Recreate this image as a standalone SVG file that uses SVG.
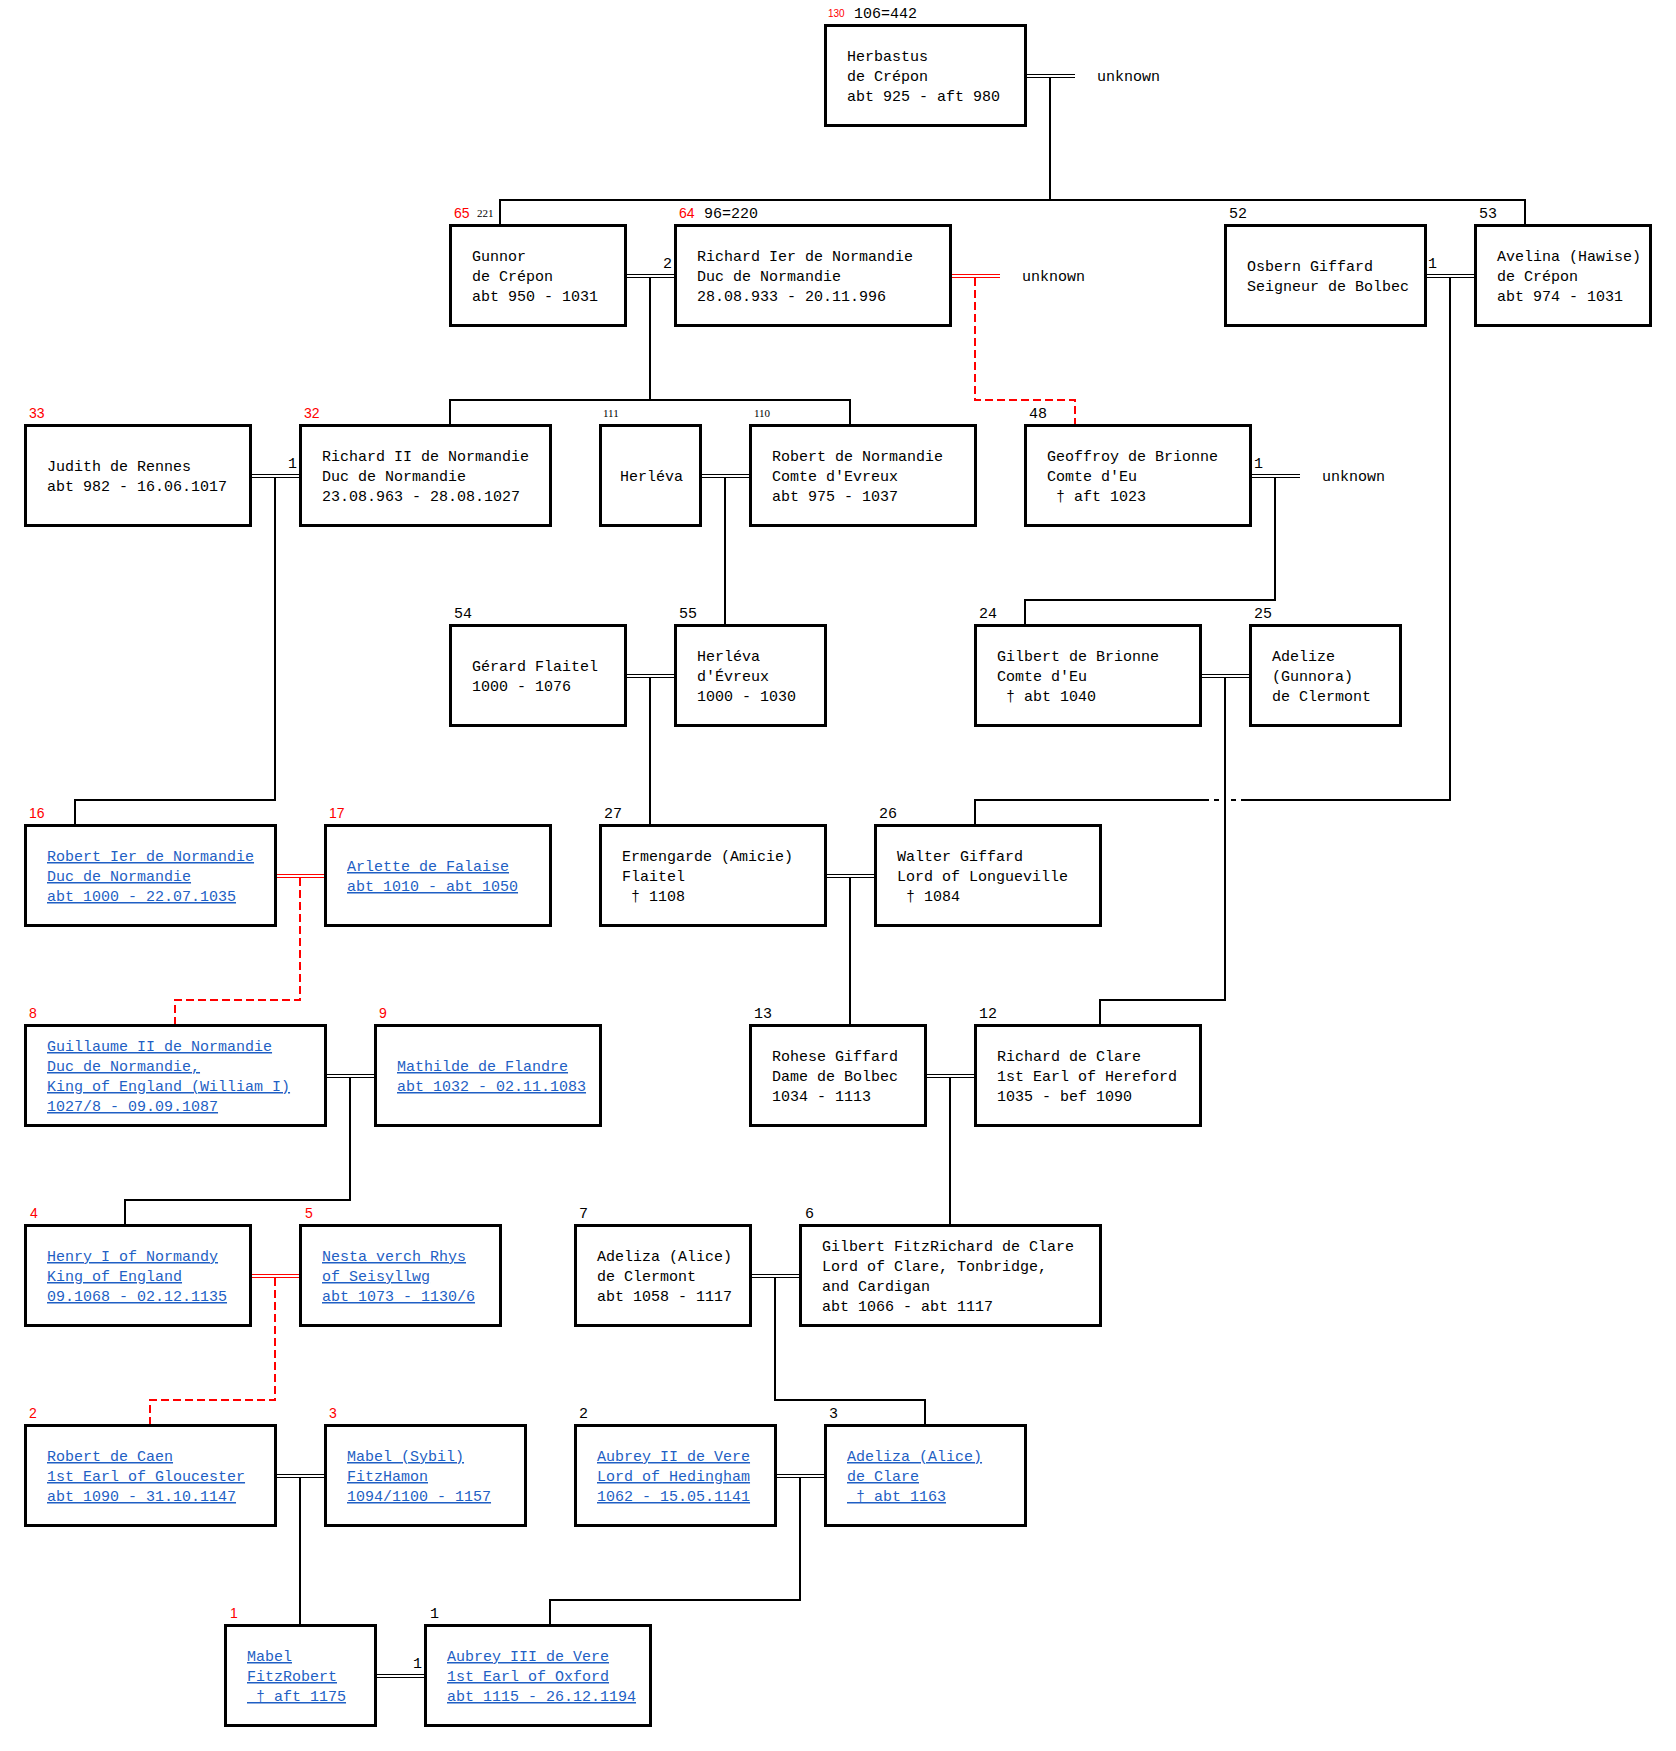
<svg xmlns="http://www.w3.org/2000/svg" width="1676" height="1751" viewBox="0 0 1676 1751">
<style>
.box{fill:#fff;stroke:#000;stroke-width:3}
.t{font-family:"Liberation Mono","Courier New",monospace;font-size:15px;fill:#000;white-space:pre}
.lk{fill:#1f5fc4;text-decoration:underline}
.nr{font-family:"Liberation Sans",Arial,sans-serif;font-size:14px;fill:#ff0000}
.ns{font-family:"Liberation Serif","Times New Roman",serif;font-size:11px;fill:#000}
.nsr{font-family:"Liberation Sans",Arial,sans-serif;font-size:10px;fill:#ff0000}
.c{stroke:#000;stroke-width:2;fill:none}
.cr{stroke:#ff0000;stroke-width:2;fill:none;stroke-dasharray:8 4}
.d{stroke:#000;stroke-width:1;fill:none}
.dr{stroke:#ff0000;stroke-width:1;fill:none}
</style>
<rect width="1676" height="1751" fill="#fff"/>
<g id="connectors">
<path class="c" d="M1050,77V200M500,225V200H1525V225"/>
<path class="c" d="M650,278V400M450,425V400H850V425"/>
<path class="c" d="M1450,278V800H1241M1236,800H1231M1219,800H1214M1209,800H975V825"/>
<path class="c" d="M275,478V800H75V825"/>
<path class="c" d="M725,478V625"/>
<path class="c" d="M1275,478V600H1025V625"/>
<path class="c" d="M650,678V825"/>
<path class="c" d="M1225,678V1000H1100V1025"/>
<path class="c" d="M850,878V1025"/>
<path class="c" d="M350,1078V1200H125V1225"/>
<path class="c" d="M950,1078V1225"/>
<path class="c" d="M775,1278V1400H925V1425"/>
<path class="c" d="M300,1478V1625"/>
<path class="c" d="M800,1478V1600H550V1625"/>
<path class="cr" d="M975,278V400H1075V425"/>
<path class="cr" d="M300,878V1000H175V1025"/>
<path class="cr" d="M275,1278V1400H150V1425"/>
<path class="d" d="M1025,74.5H1075M1025,77.5H1075"/>
<path class="d" d="M625,274.5H675M625,277.5H675"/>
<path class="d" d="M1425,274.5H1475M1425,277.5H1475"/>
<path class="d" d="M250,474.5H300M250,477.5H300"/>
<path class="d" d="M700,474.5H750M700,477.5H750"/>
<path class="d" d="M1250,474.5H1300M1250,477.5H1300"/>
<path class="d" d="M625,674.5H675M625,677.5H675"/>
<path class="d" d="M1200,674.5H1250M1200,677.5H1250"/>
<path class="d" d="M825,874.5H875M825,877.5H875"/>
<path class="d" d="M325,1074.5H375M325,1077.5H375"/>
<path class="d" d="M925,1074.5H975M925,1077.5H975"/>
<path class="d" d="M750,1274.5H800M750,1277.5H800"/>
<path class="d" d="M275,1474.5H325M275,1477.5H325"/>
<path class="d" d="M775,1474.5H825M775,1477.5H825"/>
<path class="d" d="M375,1674.5H425M375,1677.5H425"/>
<path class="dr" d="M950,274.5H1000M950,277.5H1000"/>
<path class="dr" d="M275,874.5H325M275,877.5H325"/>
<path class="dr" d="M250,1274.5H300M250,1277.5H300"/>
<text class="t" x="1097" y="81">unknown</text>
<text class="t" x="1022" y="281">unknown</text>
<text class="t" x="1322" y="481">unknown</text>
<text class="t" x="672" y="268" text-anchor="end">2</text>
<text class="t" x="1428" y="268">1</text>
<text class="t" x="297" y="468" text-anchor="end">1</text>
<text class="t" x="1254" y="468">1</text>
<text class="t" x="422" y="1668" text-anchor="end">1</text>
</g>

<g id="n130">
<rect class="box" x="825.5" y="25.5" width="200" height="100"/>
<text class="nsr" x="828" y="17">130</text><text class="t" x="854" y="18">106=442</text>
<text class="t" x="847" y="61">Herbastus</text>
<text class="t" x="847" y="81">de Crépon</text>
<text class="t" x="847" y="101">abt 925 - aft 980</text>
</g>

<g id="n65">
<rect class="box" x="450.5" y="225.5" width="175" height="100"/>
<text class="nr" x="454" y="218">65</text><text class="ns" x="477" y="217">221</text>
<text class="t" x="472" y="261">Gunnor</text>
<text class="t" x="472" y="281">de Crépon</text>
<text class="t" x="472" y="301">abt 950 - 1031</text>
</g>

<g id="n64">
<rect class="box" x="675.5" y="225.5" width="275" height="100"/>
<text class="nr" x="679" y="218">64</text><text class="t" x="704" y="218">96=220</text>
<text class="t" x="697" y="261">Richard Ier de Normandie</text>
<text class="t" x="697" y="281">Duc de Normandie</text>
<text class="t" x="697" y="301">28.08.933 - 20.11.996</text>
</g>

<g id="n52">
<rect class="box" x="1225.5" y="225.5" width="200" height="100"/>
<text class="t" x="1229" y="218">52</text>
<text class="t" x="1247" y="271">Osbern Giffard</text>
<text class="t" x="1247" y="291">Seigneur de Bolbec</text>
</g>

<g id="n53">
<rect class="box" x="1475.5" y="225.5" width="175" height="100"/>
<text class="t" x="1479" y="218">53</text>
<text class="t" x="1497" y="261">Avelina (Hawise)</text>
<text class="t" x="1497" y="281">de Crépon</text>
<text class="t" x="1497" y="301">abt 974 - 1031</text>
</g>

<g id="n33">
<rect class="box" x="25.5" y="425.5" width="225" height="100"/>
<text class="nr" x="29" y="418">33</text>
<text class="t" x="47" y="471">Judith de Rennes</text>
<text class="t" x="47" y="491">abt 982 - 16.06.1017</text>
</g>

<g id="n32">
<rect class="box" x="300.5" y="425.5" width="250" height="100"/>
<text class="nr" x="304" y="418">32</text>
<text class="t" x="322" y="461">Richard II de Normandie</text>
<text class="t" x="322" y="481">Duc de Normandie</text>
<text class="t" x="322" y="501">23.08.963 - 28.08.1027</text>
</g>

<g id="n111">
<rect class="box" x="600.5" y="425.5" width="100" height="100"/>
<text class="ns" x="603" y="417">111</text>
<text class="t" x="620" y="481">Herléva</text>
</g>

<g id="n110">
<rect class="box" x="750.5" y="425.5" width="225" height="100"/>
<text class="ns" x="754" y="417">110</text>
<text class="t" x="772" y="461">Robert de Normandie</text>
<text class="t" x="772" y="481">Comte d'Evreux</text>
<text class="t" x="772" y="501">abt 975 - 1037</text>
</g>

<g id="n48">
<rect class="box" x="1025.5" y="425.5" width="225" height="100"/>
<text class="t" x="1029" y="418">48</text>
<text class="t" x="1047" y="461">Geoffroy de Brionne</text>
<text class="t" x="1047" y="481">Comte d'Eu</text>
<text class="t" x="1047" y="501" xml:space="preserve"> † aft 1023</text>
</g>

<g id="n54">
<rect class="box" x="450.5" y="625.5" width="175" height="100"/>
<text class="t" x="454" y="618">54</text>
<text class="t" x="472" y="671">Gérard Flaitel</text>
<text class="t" x="472" y="691">1000 - 1076</text>
</g>

<g id="n55">
<rect class="box" x="675.5" y="625.5" width="150" height="100"/>
<text class="t" x="679" y="618">55</text>
<text class="t" x="697" y="661">Herléva</text>
<text class="t" x="697" y="681">d'Évreux</text>
<text class="t" x="697" y="701">1000 - 1030</text>
</g>

<g id="n24">
<rect class="box" x="975.5" y="625.5" width="225" height="100"/>
<text class="t" x="979" y="618">24</text>
<text class="t" x="997" y="661">Gilbert de Brionne</text>
<text class="t" x="997" y="681">Comte d'Eu</text>
<text class="t" x="997" y="701" xml:space="preserve"> † abt 1040</text>
</g>

<g id="n25">
<rect class="box" x="1250.5" y="625.5" width="150" height="100"/>
<text class="t" x="1254" y="618">25</text>
<text class="t" x="1272" y="661">Adelize</text>
<text class="t" x="1272" y="681">(Gunnora)</text>
<text class="t" x="1272" y="701">de Clermont</text>
</g>

<g id="n16">
<rect class="box" x="25.5" y="825.5" width="250" height="100"/>
<text class="nr" x="29" y="818">16</text>
<text class="t lk" x="47" y="861">Robert Ier de Normandie</text>
<text class="t lk" x="47" y="881">Duc de Normandie</text>
<text class="t lk" x="47" y="901">abt 1000 - 22.07.1035</text>
</g>

<g id="n17">
<rect class="box" x="325.5" y="825.5" width="225" height="100"/>
<text class="nr" x="329" y="818">17</text>
<text class="t lk" x="347" y="871">Arlette de Falaise</text>
<text class="t lk" x="347" y="891">abt 1010 - abt 1050</text>
</g>

<g id="n27">
<rect class="box" x="600.5" y="825.5" width="225" height="100"/>
<text class="t" x="604" y="818">27</text>
<text class="t" x="622" y="861">Ermengarde (Amicie)</text>
<text class="t" x="622" y="881">Flaitel</text>
<text class="t" x="622" y="901" xml:space="preserve"> † 1108</text>
</g>

<g id="n26">
<rect class="box" x="875.5" y="825.5" width="225" height="100"/>
<text class="t" x="879" y="818">26</text>
<text class="t" x="897" y="861">Walter Giffard</text>
<text class="t" x="897" y="881">Lord of Longueville</text>
<text class="t" x="897" y="901" xml:space="preserve"> † 1084</text>
</g>

<g id="n8">
<rect class="box" x="25.5" y="1025.5" width="300" height="100"/>
<text class="nr" x="29" y="1018">8</text>
<text class="t lk" x="47" y="1051">Guillaume II de Normandie</text>
<text class="t lk" x="47" y="1071">Duc de Normandie,</text>
<text class="t lk" x="47" y="1091">King of England (William I)</text>
<text class="t lk" x="47" y="1111">1027/8 - 09.09.1087</text>
</g>

<g id="n9">
<rect class="box" x="375.5" y="1025.5" width="225" height="100"/>
<text class="nr" x="379" y="1018">9</text>
<text class="t lk" x="397" y="1071">Mathilde de Flandre</text>
<text class="t lk" x="397" y="1091">abt 1032 - 02.11.1083</text>
</g>

<g id="n13">
<rect class="box" x="750.5" y="1025.5" width="175" height="100"/>
<text class="t" x="754" y="1018">13</text>
<text class="t" x="772" y="1061">Rohese Giffard</text>
<text class="t" x="772" y="1081">Dame de Bolbec</text>
<text class="t" x="772" y="1101">1034 - 1113</text>
</g>

<g id="n12">
<rect class="box" x="975.5" y="1025.5" width="225" height="100"/>
<text class="t" x="979" y="1018">12</text>
<text class="t" x="997" y="1061">Richard de Clare</text>
<text class="t" x="997" y="1081">1st Earl of Hereford</text>
<text class="t" x="997" y="1101">1035 - bef 1090</text>
</g>

<g id="n4">
<rect class="box" x="25.5" y="1225.5" width="225" height="100"/>
<text class="nr" x="30" y="1218">4</text>
<text class="t lk" x="47" y="1261">Henry I of Normandy</text>
<text class="t lk" x="47" y="1281">King of England</text>
<text class="t lk" x="47" y="1301">09.1068 - 02.12.1135</text>
</g>

<g id="n5">
<rect class="box" x="300.5" y="1225.5" width="200" height="100"/>
<text class="nr" x="305" y="1218">5</text>
<text class="t lk" x="322" y="1261">Nesta verch Rhys</text>
<text class="t lk" x="322" y="1281">of Seisyllwg</text>
<text class="t lk" x="322" y="1301">abt 1073 - 1130/6</text>
</g>

<g id="n7">
<rect class="box" x="575.5" y="1225.5" width="175" height="100"/>
<text class="t" x="579" y="1218">7</text>
<text class="t" x="597" y="1261">Adeliza (Alice)</text>
<text class="t" x="597" y="1281">de Clermont</text>
<text class="t" x="597" y="1301">abt 1058 - 1117</text>
</g>

<g id="n6">
<rect class="box" x="800.5" y="1225.5" width="300" height="100"/>
<text class="t" x="805" y="1218">6</text>
<text class="t" x="822" y="1251">Gilbert FitzRichard de Clare</text>
<text class="t" x="822" y="1271">Lord of Clare, Tonbridge,</text>
<text class="t" x="822" y="1291">and Cardigan</text>
<text class="t" x="822" y="1311">abt 1066 - abt 1117</text>
</g>

<g id="n2">
<rect class="box" x="25.5" y="1425.5" width="250" height="100"/>
<text class="nr" x="29" y="1418">2</text>
<text class="t lk" x="47" y="1461">Robert de Caen</text>
<text class="t lk" x="47" y="1481">1st Earl of Gloucester</text>
<text class="t lk" x="47" y="1501">abt 1090 - 31.10.1147</text>
</g>

<g id="n3">
<rect class="box" x="325.5" y="1425.5" width="200" height="100"/>
<text class="nr" x="329" y="1418">3</text>
<text class="t lk" x="347" y="1461">Mabel (Sybil)</text>
<text class="t lk" x="347" y="1481">FitzHamon</text>
<text class="t lk" x="347" y="1501">1094/1100 - 1157</text>
</g>

<g id="n2b">
<rect class="box" x="575.5" y="1425.5" width="200" height="100"/>
<text class="t" x="579" y="1418">2</text>
<text class="t lk" x="597" y="1461">Aubrey II de Vere</text>
<text class="t lk" x="597" y="1481">Lord of Hedingham</text>
<text class="t lk" x="597" y="1501">1062 - 15.05.1141</text>
</g>

<g id="n3b">
<rect class="box" x="825.5" y="1425.5" width="200" height="100"/>
<text class="t" x="829" y="1418">3</text>
<text class="t lk" x="847" y="1461">Adeliza (Alice)</text>
<text class="t lk" x="847" y="1481">de Clare</text>
<text class="t lk" x="847" y="1501" xml:space="preserve"> † abt 1163</text>
</g>

<g id="n1">
<rect class="box" x="225.5" y="1625.5" width="150" height="100"/>
<text class="nr" x="230" y="1618">1</text>
<text class="t lk" x="247" y="1661">Mabel</text>
<text class="t lk" x="247" y="1681">FitzRobert</text>
<text class="t lk" x="247" y="1701" xml:space="preserve"> † aft 1175</text>
</g>

<g id="n1b">
<rect class="box" x="425.5" y="1625.5" width="225" height="100"/>
<text class="t" x="430" y="1618">1</text>
<text class="t lk" x="447" y="1661">Aubrey III de Vere</text>
<text class="t lk" x="447" y="1681">1st Earl of Oxford</text>
<text class="t lk" x="447" y="1701">abt 1115 - 26.12.1194</text>
</g>
</svg>
